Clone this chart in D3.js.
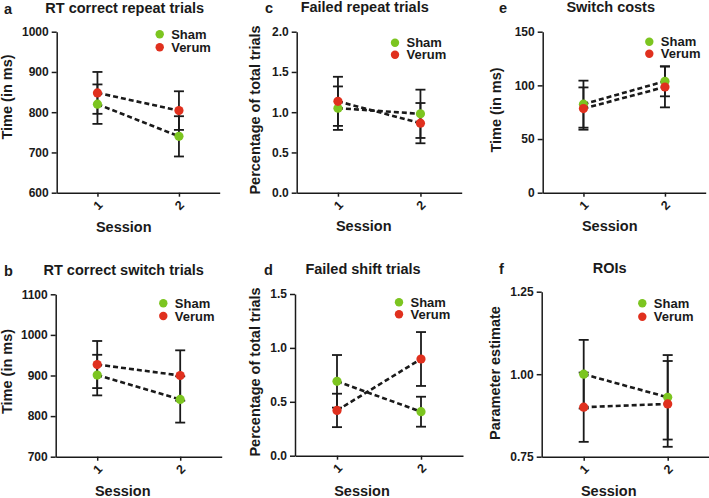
<!DOCTYPE html>
<html><head><meta charset="utf-8">
<script src="https://cdn.jsdelivr.net/npm/d3@7"></script>
<style>
html,body{margin:0;padding:0;background:#fff;}
svg{display:block;font-family:"Liberation Sans",Arial,sans-serif;}
</style></head>
<body>
<svg id="chart" width="709" height="498"></svg>
<script>
// ---- data ----
const sessions = ["1", "2"];
const groups = ["Sham", "Verum"];
const groupColors = ["#7cc520", "#e0301e"];

// a: RT correct repeat trials
const rtRepeatSham = [820, 740];
const rtRepeatShamErr = [49, 50];
const rtRepeatVerum = [848, 804];
const rtRepeatVerumErr = [52, 48];
const rtRepeatTicks = [600, 700, 800, 900, 1000];

// b: RT correct switch trials
const rtSwitchSham = [901, 841];
const rtSwitchShamErr = [50, 57];
const rtSwitchVerum = [927, 900];
const rtSwitchVerumErr = [58, 62];
const rtSwitchTicks = [700, 800, 900, 1000, 1100];

// c: Failed repeat trials
const failRepeatSham = [1.05, 0.98];
const failRepeatShamErr = [0.27, 0.30];
const failRepeatVerum = [1.135, 0.864];
const failRepeatVerumErr = [0.305, 0.25];
const failRepeatTicks = [0, 0.5, 1.0, 1.5, 2.0];

// d: Failed shift trials
const failShiftSham = [0.69, 0.408];
const failShiftShamErr = [0.244, 0.139];
const failShiftVerum = [0.42, 0.897];
const failShiftVerumErr = [0.155, 0.25];
const failShiftTicks = [0, 0.5, 1.0, 1.5];

// e: Switch costs
const switchCostSham = [82.5, 103.8];
const switchCostShamErr = [21.9, 14];
const switchCostVerum = [78.4, 98.5];
const switchCostVerumErr = [19.7, 19];
const switchCostTicks = [0, 50, 100, 150];

// f: ROIs
const roiSham = [1.0, 0.93];
const roiShamErr = [0.104, 0.128];
const roiVerum = [0.90, 0.91];
const roiVerumErr = [0.105, 0.13];
const roiTicks = [0.75, 1.00, 1.25];

// ---- panel layout ----
const panels = [
  {letter:"a", title:"RT correct repeat trials", ylabel:"Time (in ms)", fmt:"d",
   sham:rtRepeatSham, shamErr:rtRepeatShamErr, verum:rtRepeatVerum, verumErr:rtRepeatVerumErr, ticks:rtRepeatTicks,
   left:56.7, top:31.7, bottom:192.7, w:163, letterX:4, titleY:13, ylx:12, yly:97, sessY:232, legX:103, legY:2.6, legDy:13},
  {letter:"c", title:"Failed repeat trials", ylabel:"Percentage of total trials", fmt:".1f",
   sham:failRepeatSham, shamErr:failRepeatShamErr, verum:failRepeatVerum, verumErr:failRepeatVerumErr, ticks:failRepeatTicks,
   left:296.7, top:31.7, bottom:192.7, w:165, letterX:265, titleY:12, ylx:260, yly:110, sessY:231, legX:98.3, legY:11, legDy:12},
  {letter:"e", title:"Switch costs", ylabel:"Time (in ms)", fmt:"d",
   sham:switchCostSham, shamErr:switchCostShamErr, verum:switchCostVerum, verumErr:switchCostVerumErr, ticks:switchCostTicks,
   left:542.7, top:31.7, bottom:192.7, w:163, letterX:499, titleY:12, ylx:501, yly:110, sessY:231, legX:106.6, legY:10, legDy:12},
  {letter:"b", title:"RT correct switch trials", ylabel:"Time (in ms)", fmt:"d",
   sham:rtSwitchSham, shamErr:rtSwitchShamErr, verum:rtSwitchVerum, verumErr:rtSwitchVerumErr, ticks:rtSwitchTicks,
   left:55.7, top:294.3, bottom:456.7, w:166, letterX:4, titleY:275, ylx:12, yly:371.5, sessY:496, legX:107.6, legY:9, legDy:12.7},
  {letter:"d", title:"Failed shift trials", ylabel:"Percentage of total trials", fmt:".1f",
   sham:failShiftSham, shamErr:failShiftShamErr, verum:failShiftVerum, verumErr:failShiftVerumErr, ticks:failShiftTicks,
   left:295, top:294, bottom:455.7, w:168, letterX:264, titleY:274, ylx:259.5, yly:372, sessY:496, legX:104, legY:8.3, legDy:12},
  {letter:"f", title:"ROIs", ylabel:"Parameter estimate", fmt:".2f",
   sham:roiSham, shamErr:roiShamErr, verum:roiVerum, verumErr:roiVerumErr, ticks:roiTicks,
   left:541.7, top:291.7, bottom:456.7, w:168, letterX:499, titleY:273, ylx:500, yly:373, sessY:496, legX:100.6, legY:11.6, legDy:13.4}
];

const svg = d3.select("#chart");
const ink = "#1a1a1a";
const labelSize = "14.5px";

panels.forEach(p => {
  const g = svg.append("g");
  const x = d3.scalePoint().domain(sessions).range([p.left, p.left + p.w]).padding(0.5);
  const y = d3.scaleLinear().domain([p.ticks[0], p.ticks[p.ticks.length-1]]).range([p.bottom, p.top]);

  // y axis
  const ya = g.append("g").attr("transform", `translate(${p.left},0)`)
    .call(d3.axisLeft(y).tickValues(p.ticks).tickFormat(d3.format(p.fmt)).tickSize(5).tickSizeOuter(0).tickPadding(3));
  ya.select(".domain").attr("stroke", ink).attr("stroke-width", 1.5);
  ya.selectAll(".tick line").attr("stroke", ink).attr("stroke-width", 1.5);
  ya.selectAll(".tick text").attr("fill", ink).style("font-size", "12px").style("font-weight", "bold").style("font-family", "Liberation Sans, Arial, sans-serif");

  // x axis
  const xa = g.append("g").attr("transform", `translate(0,${p.bottom})`)
    .call(d3.axisBottom(x).tickSize(4).tickSizeOuter(0).tickPadding(6));
  xa.select(".domain").attr("stroke", ink).attr("stroke-width", 1.5);
  xa.selectAll(".tick line").attr("stroke", ink).attr("stroke-width", 1.5);
  xa.selectAll(".tick text").attr("fill", ink).style("font-size", "12.5px").style("font-weight", "bold")
    .style("font-family", "Liberation Sans, Arial, sans-serif")
    .attr("text-anchor", "middle").attr("dy", "0.35em").attr("y", 12.5)
    .attr("transform", "rotate(-45,0,12.5)");

  // titles
  g.append("text").attr("x", p.letterX).attr("y", p.titleY + 1).text(p.letter)
    .attr("fill", ink).style("font-size", labelSize).style("font-weight", "bold");
  g.append("text").attr("x", p.left + 68).attr("y", p.titleY).attr("text-anchor", "middle").text(p.title)
    .attr("fill", ink).style("font-size", labelSize).style("font-weight", "bold");
  g.append("text").attr("transform", `translate(${p.ylx},${p.yly}) rotate(-90)`).attr("text-anchor", "middle")
    .text(p.ylabel).attr("fill", ink).style("font-size", labelSize).style("font-weight", "bold");
  g.append("text").attr("x", p.left + 67).attr("y", p.sessY).attr("text-anchor", "middle").text("Session")
    .attr("fill", ink).style("font-size", labelSize).style("font-weight", "bold");

  const series = [
    {name: groups[0], color: groupColors[0], vals: p.sham, errs: p.shamErr},
    {name: groups[1], color: groupColors[1], vals: p.verum, errs: p.verumErr}
  ];

  // error bars
  series.forEach(s => {
    sessions.forEach((ses, i) => {
      const cx = x(ses), hi = y(s.vals[i] + s.errs[i]), lo = y(s.vals[i] - s.errs[i]);
      g.append("line").attr("x1", cx).attr("x2", cx).attr("y1", hi).attr("y2", lo).attr("stroke", ink).attr("stroke-width", 1.8);
      [hi, lo].forEach(yy => g.append("line").attr("x1", cx - 5).attr("x2", cx + 5).attr("y1", yy).attr("y2", yy)
        .attr("stroke", ink).attr("stroke-width", 1.8));
    });
  });
  // dashed lines
  const line = d3.line().x((d, i) => x(sessions[i])).y(d => y(d));
  series.forEach(s => {
    g.append("path").attr("d", line(s.vals)).attr("fill", "none").attr("stroke", ink)
      .attr("stroke-width", 2.6).attr("stroke-dasharray", "5,3");
  });
  // dots
  series.forEach(s => {
    g.selectAll(null).data(s.vals).enter().append("circle")
      .attr("cx", (d, i) => x(sessions[i])).attr("cy", d => y(d)).attr("r", 4.6).attr("fill", s.color);
  });
  // legend
  series.forEach((s, i) => {
    const ly = p.top + p.legY + i * p.legDy;
    g.append("circle").attr("cx", p.left + p.legX).attr("cy", ly).attr("r", 4.2).attr("fill", s.color);
    g.append("text").attr("x", p.left + p.legX + 11.5).attr("y", ly).attr("dy", "0.36em").text(s.name)
      .attr("fill", ink).style("font-size", "13px").style("font-weight", "bold");
  });
});
</script>
</body></html>
